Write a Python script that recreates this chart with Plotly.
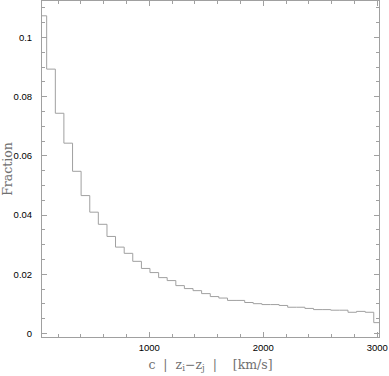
import plotly.graph_objects as go

# histogram bin edges (km/s); first and last bins are cut by the axis range
bin_edges = [59, 100, 176, 251, 327, 402, 478, 553, 629, 704, 780, 855, 931, 1006, 1082,
             1157, 1233, 1308, 1384, 1459, 1535, 1610, 1686, 1761, 1837, 1912, 1988,
             2063, 2139, 2214, 2290, 2365, 2441, 2516, 2592, 2667, 2743, 2818, 2894,
             2969, 3015]

# fraction in each bin
fractions = [0.1073, 0.0893, 0.0744, 0.0643, 0.0548, 0.0466, 0.0410, 0.0369, 0.0328,
             0.0292, 0.0271, 0.0244, 0.0220, 0.0206, 0.0189, 0.0179, 0.0162, 0.0152,
             0.0145, 0.0135, 0.0125, 0.0120, 0.0112, 0.0112, 0.0105, 0.0101, 0.0098,
             0.0098, 0.0095, 0.0089, 0.0089, 0.0085, 0.0081, 0.0081, 0.0079, 0.0079,
             0.0072, 0.0075, 0.0072, 0.0037]

y_tickvals = [0, 0.02, 0.04, 0.06, 0.08, 0.1]
y_ticktext = ["0", "0.02", "0.04", "0.06", "0.08", "0.1"]
x_tickvals = [1000, 2000, 3000]
x_ticktext = ["1000", "2000", "3000"]

AXIS_GREY = "#a0a0a0"
TITLE_GREY = "#707070"

fig = go.Figure()

# step outline: horizontal over each bin, then vertical to the next
fig.add_trace(go.Scatter(
    x=bin_edges,
    y=fractions + [fractions[-1]],
    mode="lines",
    line=dict(color="#a0a0a0", width=1, shape="hv"),
    showlegend=False,
    hoverinfo="skip",
))

axis_common = dict(
    showline=True,
    linecolor=AXIS_GREY,
    linewidth=1,
    mirror="allticks",
    ticks="inside",
    ticklen=5,
    tickwidth=1,
    tickcolor=AXIS_GREY,
    showgrid=False,
    zeroline=False,
    tickfont=dict(family="Liberation Sans, Arial, sans-serif", size=9.5, color="#000000"),
)

fig.update_layout(
    width=389,
    height=376,
    margin=dict(l=42, r=10, t=1, b=39),
    paper_bgcolor="white",
    plot_bgcolor="white",
    xaxis=dict(
        range=[59, 3015],
        tickvals=x_tickvals,
        ticktext=x_ticktext,
        minor=dict(dtick=200, ticks="inside", ticklen=3, tickcolor=AXIS_GREY, showgrid=False),
        ticklabelstandoff=2,
        title=dict(
            text="c\u00a0\u00a0|\u00a0\u00a0z<sub>i</sub>\u2212z<sub>j</sub>\u00a0\u00a0|\u00a0\u00a0\u00a0\u00a0[km/s]",
            font=dict(family="DejaVu Serif, serif", size=12.5, color=TITLE_GREY),
            standoff=7,
        ),
        automargin=False,
        **axis_common,
    ),
    yaxis=dict(
        range=[-0.00115, 0.1123],
        tickvals=y_tickvals,
        ticktext=y_ticktext,
        minor=dict(dtick=0.005, tick0=0, ticks="inside", ticklen=3, tickcolor=AXIS_GREY, showgrid=False),
        ticklabelstandoff=7,
        title=dict(
            text="Fraction",
            font=dict(family="DejaVu Serif, serif", size=12.5, color=TITLE_GREY),
            standoff=10,
        ),
        automargin=False,
        **axis_common,
    ),
)

# the page body has a default 8px margin; drop it so the figure sits at the window corner
fig.write_html(
    "out.html",
    config={"displayModeBar": False},
    post_script="document.body.style.margin='0';",
)
